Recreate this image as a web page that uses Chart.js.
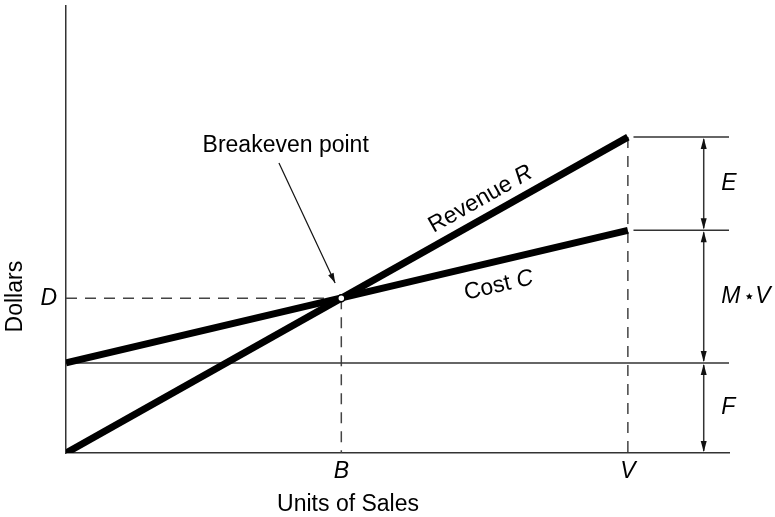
<!DOCTYPE html>
<html>
<head>
<meta charset="utf-8">
<title>Breakeven chart</title>
<script src="https://cdn.jsdelivr.net/npm/chart.js@4.4.1/dist/chart.umd.min.js"></script>
<style>
  html, body { margin: 0; padding: 0; background: #fff; }
  #wrap { width: 775px; height: 517px; position: relative; }
</style>
</head>
<body>
<div id="wrap"><canvas id="chart"></canvas></div>
<script>
// Values. x: units of sales (V = 100), y: dollars (R at V = 100)
const unitsRange = [0, 118];
const dollarsRange = [0, 141.5];
const salesVolume = 100;      // V
const breakevenUnits = 49;    // B
const breakevenDollars = 49;  // D
const fixedCost = 28.5;       // F
const revenueUnits = [0, 100];
const revenueDollars = [0, 100];
const costUnits = [0, 100];
const costDollars = [28.5, 70.5];
const xTickValues = [breakevenUnits, salesVolume];
const xTickLabels = ['B', 'V'];
const yTickValues = [breakevenDollars];
const yTickLabels = ['D'];

const FONT = "'Liberation Sans', Arial, Helvetica, sans-serif";
const SIZE = 23;
const INK = '#000';
const THIN = '#333';
const DASH = [11, 8];

// where the annotations sit, in data units
const bracketUnits = 113.5;
const bracketStartUnits = 101;
const pointerFrom = { x: 37.9, y: 91.8 };
const pointerTo = { x: 47.9, y: 53.8 };
const pointerText = { x: 39.1, y: 97.4 };
const revenueText = { x: 73.8, y: 80.3 };
const costText = { x: 77.0, y: 53.0 };
const sideTextUnits = 116.6;
const unitsTitleX = 50.2;
const dollarsTitleY = 49.5;

function seg(xs, ys) {
    return xs.map((v, i) => ({ x: v, y: ys[i] }));
}

const datasets = [
    {   // breakeven marker, drawn on top
        data: [{ x: breakevenUnits, y: breakevenDollars }],
        showLine: false, pointRadius: 3.5, pointBackgroundColor: '#fff',
        pointBorderColor: INK, pointBorderWidth: 1.5
    },
    { data: seg(revenueUnits, revenueDollars), borderColor: INK, borderWidth: 7, pointRadius: 0 },
    { data: seg(costUnits, costDollars), borderColor: INK, borderWidth: 7, pointRadius: 0 },
    { data: seg([0, unitsRange[1]], [fixedCost, fixedCost]), borderColor: THIN, borderWidth: 1.5, pointRadius: 0 },
    { data: seg([bracketStartUnits, unitsRange[1]], [revenueDollars[1], revenueDollars[1]]), borderColor: THIN, borderWidth: 1.5, pointRadius: 0 },
    { data: seg([bracketStartUnits, unitsRange[1]], [costDollars[1], costDollars[1]]), borderColor: THIN, borderWidth: 1.5, pointRadius: 0 },
    { data: seg([0, breakevenUnits], [breakevenDollars, breakevenDollars]), borderColor: '#444', borderWidth: 1.5, borderDash: DASH, pointRadius: 0 },
    { data: seg([breakevenUnits, breakevenUnits], [breakevenDollars, 0]), borderColor: '#444', borderWidth: 1.5, borderDash: DASH, pointRadius: 0 },
    { data: seg([salesVolume, salesVolume], [revenueDollars[1], 0]), borderColor: '#444', borderWidth: 1.5, borderDash: DASH, pointRadius: 0 }
];

function arrowHead(ctx, x0, y0, x1, y1, len, half) {
    const a = Math.atan2(y1 - y0, x1 - x0);
    ctx.beginPath();
    ctx.moveTo(x1, y1);
    ctx.lineTo(x1 - len * Math.cos(a) + half * Math.sin(a), y1 - len * Math.sin(a) - half * Math.cos(a));
    ctx.lineTo(x1 - len * Math.cos(a) - half * Math.sin(a), y1 - len * Math.sin(a) + half * Math.cos(a));
    ctx.closePath();
    ctx.fill();
}

function doubleArrow(ctx, x, yTop, yBot) {
    ctx.beginPath();
    ctx.moveTo(x, yTop + 2);
    ctx.lineTo(x, yBot - 2);
    ctx.stroke();
    arrowHead(ctx, x, yBot, x, yTop + 1, 11, 3);
    arrowHead(ctx, x, yTop, x, yBot - 1, 11, 3);
}

function star(ctx, cx, cy, r) {
    ctx.beginPath();
    for (let i = 0; i < 10; i++) {
        const rr = i % 2 ? r * 0.45 : r;
        const a = -Math.PI / 2 + i * Math.PI / 5;
        ctx.lineTo(cx + rr * Math.cos(a), cy + rr * Math.sin(a));
    }
    ctx.closePath();
    ctx.fill();
}

const markup = {
    id: 'markup',
    afterDatasetsDraw(chart) {
        const { ctx, scales: { x, y } } = chart;
        const px = v => x.getPixelForValue(v);
        const py = v => y.getPixelForValue(v);
        ctx.save();
        ctx.strokeStyle = THIN;
        ctx.fillStyle = '#111';
        ctx.lineWidth = 1.5;

        // dimension arrows on the right
        const ax = px(bracketUnits);
        doubleArrow(ctx, ax, py(revenueDollars[1]), py(costDollars[1]));
        doubleArrow(ctx, ax, py(costDollars[1]), py(fixedCost));
        doubleArrow(ctx, ax, py(fixedCost), py(0));

        // pointer to the breakeven point
        ctx.strokeStyle = '#111';
        ctx.lineWidth = 1.2;
        const f = { x: px(pointerFrom.x), y: py(pointerFrom.y) };
        const t = { x: px(pointerTo.x), y: py(pointerTo.y) };
        ctx.beginPath();
        ctx.moveTo(f.x, f.y);
        ctx.lineTo(t.x, t.y);
        ctx.stroke();
        arrowHead(ctx, f.x, f.y, t.x, t.y, 10, 3);

        ctx.fillStyle = '#000';
        ctx.textBaseline = 'middle';
        ctx.textAlign = 'center';
        ctx.font = `${SIZE}px ${FONT}`;
        ctx.fillText('Breakeven point', px(pointerText.x), py(pointerText.y));
        ctx.fillText('Units of Sales', px(unitsTitleX), py(0) + 52);

        // axis title on the left, level with D
        ctx.save();
        ctx.translate(16, py(dollarsTitleY));
        ctx.rotate(-Math.PI / 2);
        ctx.fillText('Dollars', 0, 0);
        ctx.restore();

        // line labels, rotated along their lines
        const rAng = Math.atan2(py(revenueDollars[1]) - py(revenueDollars[0]), px(revenueUnits[1]) - px(revenueUnits[0]));
        const cAng = Math.atan2(py(costDollars[1]) - py(costDollars[0]), px(costUnits[1]) - px(costUnits[0]));
        const rotated = (parts, cx, cy, ang) => {
            ctx.save();
            ctx.translate(cx, cy);
            ctx.rotate(ang);
            ctx.textAlign = 'left';
            let w = 0;
            parts.forEach(p => { ctx.font = p[1]; w += ctx.measureText(p[0]).width; });
            let xx = -w / 2;
            parts.forEach(p => { ctx.font = p[1]; ctx.fillText(p[0], xx, 0); xx += ctx.measureText(p[0]).width; });
            ctx.restore();
        };
        rotated([['Revenue ', `${SIZE}px ${FONT}`], ['R', `italic ${SIZE}px ${FONT}`]], px(revenueText.x), py(revenueText.y), rAng);
        rotated([['Cost ', `${SIZE}px ${FONT}`], ['C', `italic ${SIZE}px ${FONT}`]], px(costText.x), py(costText.y), cAng);

        // side labels E, M*V, F
        ctx.textAlign = 'left';
        ctx.font = `italic ${SIZE}px ${FONT}`;
        const sx = px(sideTextUnits);
        ctx.fillText('E', sx, (py(revenueDollars[1]) + py(costDollars[1])) / 2);
        const my = (py(costDollars[1]) + py(fixedCost)) / 2;
        ctx.fillText('M', sx, my);
        const mw = ctx.measureText('M').width;
        star(ctx, sx + mw + 9, my, 3.6);
        ctx.fillText('V', sx + mw + 15, my);
        ctx.fillText('F', sx, (py(fixedCost) + py(0)) / 2);
        ctx.restore();
    }
};

new Chart(document.getElementById('chart'), {
    type: 'line',
    data: { datasets },
    options: {
        responsive: true,
        maintainAspectRatio: false,
        animation: false,
        events: [],
        layout: { padding: { top: 6, right: 46, left: 0, bottom: 0 } },
        plugins: { legend: { display: false }, tooltip: { enabled: false } },
        elements: { line: { tension: 0, borderCapStyle: 'butt' } },
        scales: {
            x: {
                type: 'linear',
                min: unitsRange[0],
                max: unitsRange[1],
                grid: { display: false, drawTicks: false },
                border: { display: true, color: THIN, width: 1.5 },
                ticks: {
                    autoSkip: false, maxRotation: 0, padding: 5, color: '#000',
                    font: { family: FONT, size: SIZE, style: 'italic' },
                    callback: (v, i) => xTickLabels[i]
                },
                afterBuildTicks: s => { s.ticks = xTickValues.map(v => ({ value: v })); },
                afterFit: s => { s.height = 64; s.paddingLeft = 0; s.paddingRight = 0; }
            },
            y: {
                type: 'linear',
                min: dollarsRange[0],
                max: dollarsRange[1],
                grid: { display: false, drawTicks: false },
                border: { display: true, color: THIN, width: 1.5 },
                ticks: {
                    autoSkip: false, padding: 9, color: '#000',
                    font: { family: FONT, size: SIZE, style: 'italic' },
                    callback: (v, i) => yTickLabels[i]
                },
                afterBuildTicks: s => { s.ticks = yTickValues.map(v => ({ value: v })); },
                afterFit: s => { s.width = 66; s.paddingTop = 0; s.paddingBottom = 0; }
            }
        }
    },
    plugins: [markup]
});
</script>
</body>
</html>
